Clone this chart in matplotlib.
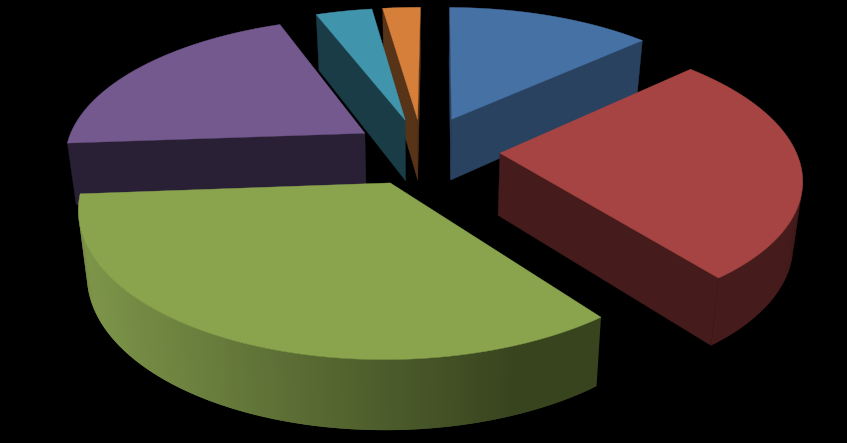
import numpy as np
import matplotlib
matplotlib.use('Agg')
import matplotlib.pyplot as plt
from matplotlib.patches import Polygon

# slices, clockwise from 12 o'clock
names = ['blue', 'red', 'green', 'purple', 'teal', 'orange']
values = [13.1, 26.3, 34.3, 20.3, 3.6, 2.4]

top_colors = ['#4671A5', '#A54442', '#89A44D', '#74598E', '#4095AD', '#D67F3B']
cut_colors = ['#284260', '#451C1B', '#526230', '#2A2035', '#193C46', '#573318']
rim_left = ['#284260', '#451C1B', '#7E964A', '#2A2035', '#193C46', '#573318']
rim_right = ['#284260', '#451C1B', '#38441E', '#2A2035', '#193C46', '#573318']
explode = [0.25, 0.26, 0.25, 0.23, 0.23, 0.23]
radius = [1.0, 0.985, 0.985, 1.0, 1.0, 1.0]
draw_order = [5, 4, 0, 3, 1, 2]

# projection settings
CX, CY = 422, 150
A, B = 300, 139
K = 0.161
DEPTH = 62
START_ANGLE = 0.5


def project(u, v, low=False):
    w = 1 + K * v
    x = CX + A * u / w
    y = CY - B * v / w
    if low:
        x = CX + (x - CX) * 0.975
        y = y + DEPTH / (1 + 0.1 * v)
    return x, y


def area(pts):
    x, y = zip(*pts)
    return sum(x[i] * y[(i + 1) % len(x)] - x[(i + 1) % len(x)] * y[i] for i in range(len(x)))


fig = plt.figure(figsize=(8.47, 4.43), dpi=100, facecolor='black')
ax = fig.add_axes([0, 0, 1, 1])
ax.set_xlim(0, 847)
ax.set_ylim(443, 0)
ax.axis('off')

ends = np.cumsum(values) / np.sum(values) * 2 * np.pi + np.radians(START_ANGLE)
starts = np.concatenate([[np.radians(START_ANGLE)], ends[:-1]])

for i in draw_order:
    a0, a1 = starts[i], ends[i]
    mid = (a0 + a1) / 2
    ou, ov = explode[i] * np.sin(mid), explode[i] * np.cos(mid)
    th = np.linspace(a0, a1, 160)
    rim_u, rim_v = ou + radius[i] * np.sin(th), ov + radius[i] * np.cos(th)
    rim_top = [project(u, v) for u, v in zip(rim_u, rim_v)]
    rim_low = [project(u, v, True) for u, v in zip(rim_u, rim_v)]
    apex_top = project(ou, ov)
    apex_low = project(ou, ov, True)

    # cut faces, back faces are culled by winding
    for face in ([apex_top, rim_top[0], rim_low[0], apex_low],
                 [rim_top[-1], apex_top, apex_low, rim_low[-1]]):
        if area(face) < 0:
            ax.add_patch(Polygon(face, closed=True, fc=cut_colors[i], ec=cut_colors[i], lw=0.3))

    # outer wall, shaded across its width
    c0 = np.array(matplotlib.colors.to_rgb(rim_left[i]))
    c1 = np.array(matplotlib.colors.to_rgb(rim_right[i]))
    vis = [j for j in range(len(th) - 2)
           if area([rim_top[j], rim_top[j + 1], rim_low[j + 1], rim_low[j]]) < 0]
    if vis:
        xs = [rim_top[j][0] for j in vis]
        # overlap neighbouring quads so no seams show
        for j in sorted(vis, key=lambda n: rim_top[n][0]):
            t = (rim_top[j][0] - min(xs)) / max(max(xs) - min(xs), 1)
            c = c0 + (c1 - c0) * min(t / 0.85, 1)
            ax.add_patch(Polygon([rim_top[j], rim_top[j + 1], rim_top[j + 2],
                                  rim_low[j + 2], rim_low[j + 1], rim_low[j]],
                                 closed=True, fc=c, ec='none'))

    ax.add_patch(Polygon([apex_top] + rim_top, closed=True, fc=top_colors[i], ec=top_colors[i], lw=0.3))

fig.savefig('out.png', dpi=100, facecolor='black')
